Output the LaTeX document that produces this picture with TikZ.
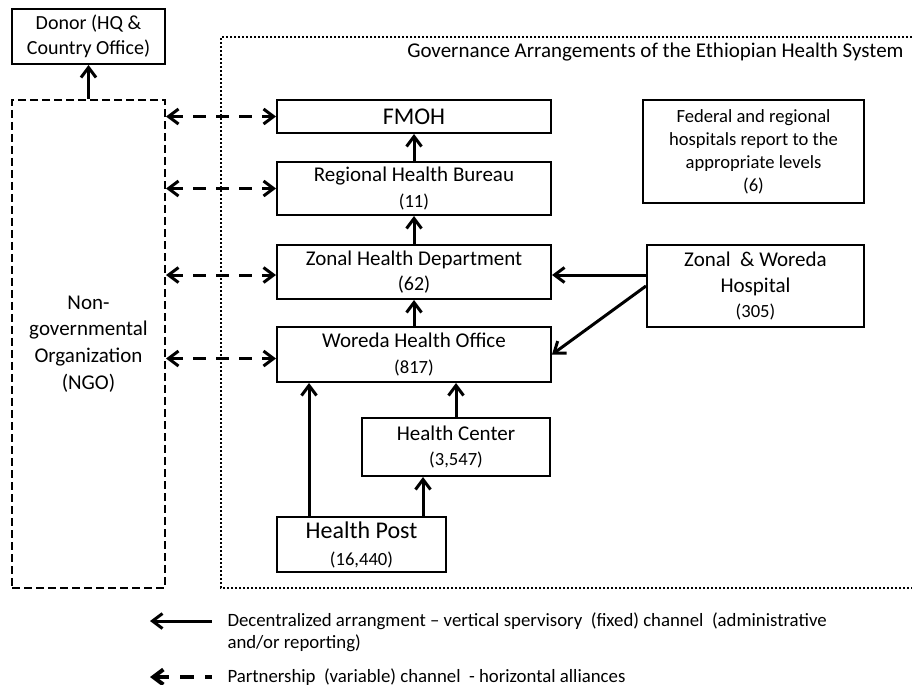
\documentclass[tikz,border=0pt]{standalone}
\usepackage{fontspec}
\setmainfont{Carlito}
\usetikzlibrary{arrows.meta}

\newcommand{\lvlnum}[1]{{\fontsize{9.3}{11}\selectfont(#1)}}

\begin{document}
\begin{tikzpicture}[x=0.5pt,y=-0.5pt,->,>={Straight Barb[length=5pt,width=7.5pt]},line width=1.5pt,
    main node/.style={draw,rectangle,line width=1pt,align=center,inner sep=0pt,font=\fontsize{10.5}{12.8}\selectfont},
    partner/.style={<->,dash pattern=on 6.5pt off 5pt}]
    \useasboundingbox (0,0) rectangle (912,685);

    % frame of the health system
    \draw[-,line width=1pt,dash pattern=on 1pt off 1pt] (912,37) -- (221,37) -- (221,588) -- (912,588);
    \node[anchor=east,inner sep=0pt,font=\fontsize{10.5}{12.5}\selectfont] (11) at (905,52) {Governance Arrangements of the Ethiopian Health System};

    \node[main node,minimum width=76.5pt,minimum height=27.5pt,font=\fontsize{10}{12.8}\selectfont] (1) at (88.5,36.5) {Donor (HQ \&\\Country Office)};
    \node[main node,dash pattern=on 4pt off 2pt,minimum width=76.5pt,minimum height=244pt,font=\fontsize{10.5}{13.3}\selectfont] (2) at (88.5,344) {Non-\\governmental\\Organization\\(NGO)};
    \node[main node,minimum width=137pt,minimum height=16.5pt,font=\fontsize{12}{14}\selectfont] (3) at (414,116.5) {FMOH};
    \node[main node,minimum width=137pt,minimum height=26.5pt] (4) at (414,188.5) {Regional Health Bureau\\\lvlnum{11}};
    \node[main node,minimum width=137pt,minimum height=27pt] (5) at (414,272) {Zonal Health Department\\{\fontsize{10}{12}\selectfont(62)}};
    \node[main node,minimum width=137pt,minimum height=27.5pt] (6) at (414,354.5) {Woreda Health Office\\\lvlnum{817}};
    \node[main node,minimum width=94pt,minimum height=29pt] (7) at (456,447) {Health Center\\\lvlnum{3,547}};
    \node[main node,minimum width=84.5pt,minimum height=27.5pt,font=\fontsize{12}{13.5}\selectfont] (8) at (361.5,544.5) {Health Post\\\lvlnum{16,440}};
    \node[main node,minimum width=110.5pt,minimum height=51.5pt,font=\fontsize{9.3}{11.5}\selectfont] (9) at (753.5,151.5) {Federal and regional\\hospitals report to the\\appropriate levels\\(6)};
    \node[main node,minimum width=108.5pt,minimum height=41pt] (10) at (755.5,286) {Zonal\ \ \& Woreda\\Hospital\\\lvlnum{305}};

    % vertical channels
    \draw (2.north) -- (1.south);
    \path (4) edge (3)
          (5) edge (4)
          (6) edge (5)
          (7.north) edge (7.north |- 6.south)
          ([xshift=-12pt]8.north east) edge ([xshift=-12pt]8.north east |- 7.south)
          ([xshift=16.5pt]8.north west) edge ([xshift=16.5pt]8.north west |- 6.south);
    \draw ([yshift=5.5pt]10.west) -- ([yshift=5.5pt]10.west -| 5.east);
    \draw (10.west) -- (6.east);

    % partnership channels
    \draw[partner] (2.east |- 3.west) -- (3.west);
    \draw[partner] (2.east |- 4.west) -- (4.west);
    \draw[partner] ([yshift=-1.5pt]2.east |- 5.west) -- ([yshift=-1.5pt]5.west);
    \draw[partner] ([yshift=-2pt]2.east |- 6.west) -- ([yshift=-2pt]6.west);

    % legend
    \node[anchor=west,align=left,inner xsep=7pt,font=\fontsize{9.4}{11}\selectfont] (12) at (212,632) {Decentralized arrangment -- vertical spervisory\ \ (fixed) channel\ \ (administrative\\and/or reporting)};
    \node[anchor=west,inner xsep=7pt,font=\fontsize{9.4}{11}\selectfont] (13) at (212,677) {Partnership\ \ (variable) channel\ \ - horizontal alliances};
    \coordinate (14) at (150,621);
    \coordinate (15) at (150,677);
    \draw[<-] (14) -- (14 -| 12.west);
    \draw[<-,line width=2pt,dash pattern=on 7pt off 5.5pt] (15) -- (15 -| 13.west);
\end{tikzpicture}
\end{document}
